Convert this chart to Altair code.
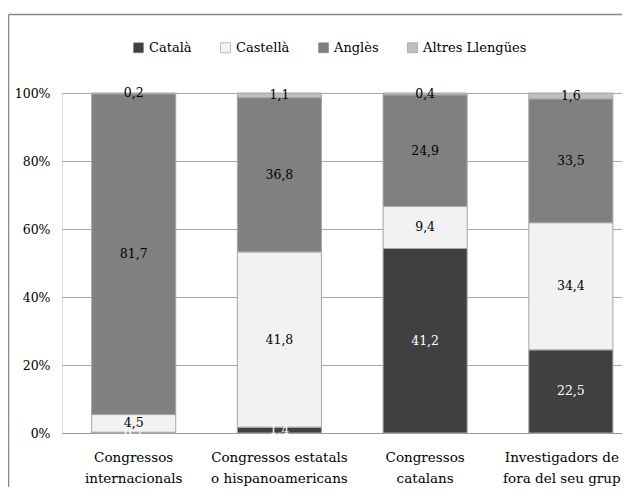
import altair as alt
import pandas as pd

cat_lines = [
    ["Congressos", "internacionals"],
    ["Congressos estatals", "o hispanoamericans"],
    ["Congressos", "catalans"],
    ["Investigadors de", "fora del seu grup"],
]
langs = ["Català", "Castellà", "Anglès", "Altres Llengües"]
catala = [0.2, 1.4, 41.2, 22.5]
castella = [4.5, 41.8, 9.4, 34.4]
angles = [81.7, 36.8, 24.9, 33.5]
altres = [0.2, 1.1, 0.4, 1.6]
y_ticks = [0, 0.2, 0.4, 0.6, 0.8, 1.0]

colors = ["#404040", "#f2f2f2", "#808080", "#bfbfbf"]
FONT = "DejaVu Serif"

cats = ["|".join(l) for l in cat_lines]
series = [catala, castella, angles, altres]
rows = []
for ci, c in enumerate(cats):
    for li, lang in enumerate(langs):
        v = series[li][ci]
        rows.append({"cat": c, "lang": lang, "ord": li, "value": v,
                     "label": f"{v:.1f}".replace(".", ",")})
df = pd.DataFrame(rows)

W, H = 560, 340

xenc = alt.X("cat:N", sort=cats, title=None,
             scale=alt.Scale(paddingInner=0.423, paddingOuter=0.133, align=0.765, round=False),
             axis=alt.Axis(labelExpr="split(datum.label, '|')", labelAngle=0,
                           labelFont=FONT, labelFontSize=13.5, labelColor="black",
                           labelLineHeight=21, labelPadding=17, ticks=False,
                           labelOffset={"condition": {"test": f"datum.value == '{cats[3]}'", "value": -9},
                                        "value": 0},
                           domainColor="#999999", labelBaseline="top"))

base = alt.Chart(df)

bars = base.mark_bar(stroke="#a6a6a6", strokeWidth=1).encode(
    x=xenc,
    y=alt.Y("value:Q", stack="normalize", title=None,
            scale=alt.Scale(domain=[0, 1], nice=False),
            axis=alt.Axis(format=".0%", values=y_ticks, labelFont=FONT,
                          labelFontSize=12.5, labelColor="black", labelPadding=12,
                          ticks=False, domain=False, gridColor="#a6a6a6")),
    color=alt.Color("lang:N", scale=alt.Scale(domain=langs, range=colors),
                    legend=alt.Legend(title=None, orient="none", direction="horizontal",
                                      legendX=70, legendY=-52, labelFont=FONT,
                                      labelFontSize=13, labelColor="black",
                                      symbolType="square", symbolSize=100,
                                      symbolStrokeColor="#808080", symbolStrokeWidth=0.5,
                                      labelOffset=4, columnPadding=27)),
    order=alt.Order("ord:Q"),
)

text = base.transform_stack(
    stack="value", groupby=["cat"], sort=[alt.SortField("ord")],
    as_=["v0", "v1"], offset="normalize"
).transform_calculate(mid="(datum.v0 + datum.v1) / 2").mark_text(
    font=FONT, fontSize=12.5, baseline="middle"
).encode(
    x=alt.X("cat:N", sort=cats),
    y=alt.Y("mid:Q"),
    text="label:N",
    color=alt.condition("datum.lang == 'Català'", alt.value("white"), alt.value("black")),
)

frame_df = pd.DataFrame({"k": [0]})
left_border = alt.Chart(frame_df).mark_rule(color="#888888", strokeWidth=1.5).encode(
    x=alt.value(-53.5), y=alt.value(-78.5), y2=alt.value(H + 80))
top_border = alt.Chart(frame_df).mark_rule(color="#888888", strokeWidth=1.5).encode(
    x=alt.value(-53.5), x2=alt.value(W + 10), y=alt.value(-78.5))

chart = alt.layer(bars, text, left_border, top_border).properties(
    width=W, height=H,
    autosize=alt.AutoSizeParams(type="none"),
    padding={"left": 54, "top": 85, "right": 0, "bottom": 54},
).configure_view(stroke=None).configure(background="white", font=FONT)

chart.save("out.html", embed_options={"renderer": "svg", "actions": False})
